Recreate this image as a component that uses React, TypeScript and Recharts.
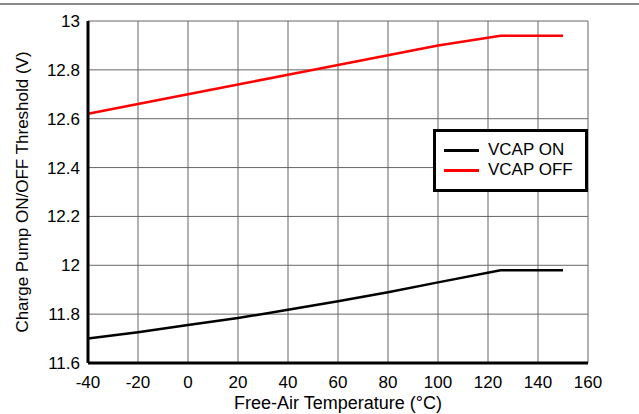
import { LineChart, Line, XAxis, YAxis, CartesianGrid } from "recharts"

const temps = [-40, -20, 0, 20, 40, 60, 80, 100, 125, 150]
const vcapOn = [11.7, 11.726, 11.756, 11.784, 11.818, 11.853, 11.89, 11.93, 11.98, 11.98]
const vcapOff = [12.62, 12.66, 12.7, 12.74, 12.78, 12.82, 12.86, 12.9, 12.94, 12.94]
const xTicks = [-40, -20, 0, 20, 40, 60, 80, 100, 120, 140, 160]
const yTicks = [11.6, 11.8, 12, 12.2, 12.4, 12.6, 12.8, 13]

const data = temps.map((t, i) => ({ t, on: vcapOn[i], off: vcapOff[i] }))

const font = "'Liberation Sans', Arial, sans-serif"
const tickStyle = { fontSize: 17, fill: "#000", fontFamily: font }

const fmtY = (v: number) => String(parseFloat(v.toFixed(1)))

// legend drawn as a plain overlay so it doesn't eat chart space
function LegendBox() {
  const items = [
    { name: "VCAP ON", color: "#000" },
    { name: "VCAP OFF", color: "#ff0000" },
  ]
  return (
    <div
      style={{
        position: "absolute",
        left: 433,
        top: 129,
        boxSizing: "border-box",
        width: 155,
        height: 63,
        border: "3px solid #000",
        background: "#fff",
        padding: "8px 0 0 8px",
        fontFamily: font,
        fontSize: 17,
        lineHeight: "20px",
        color: "#000",
      }}
    >
      {items.map((it) => (
        <div key={it.name} style={{ display: "flex", alignItems: "center" }}>
          <span style={{ display: "inline-block", width: 35, height: 0, borderTop: `3px solid ${it.color}`, marginRight: 9 }} />
          <span>{it.name}</span>
        </div>
      ))}
    </div>
  )
}

export default function App() {
  return (
    <div style={{ position: "absolute", left: 0, top: 0, width: 639, height: 414, background: "#fff" }}>
      <div style={{ position: "absolute", left: 0, top: 3, width: 639, height: 0, borderTop: "2px solid #8a8a8a" }} />
      <LineChart width={639} height={414} data={data} margin={{ top: 21, right: 51, bottom: 0, left: 0 }}>
        <CartesianGrid stroke="#666" strokeWidth={1} />
        <XAxis
          dataKey="t"
          type="number"
          domain={[-40, 160]}
          ticks={xTicks}
          interval={0}
          tickLine={false}
          tickSize={0}
          tickMargin={13}
          height={51}
          axisLine={{ stroke: "#000", strokeWidth: 3 }}
          tick={tickStyle}
          label={{ value: "Free-Air Temperature (°C)", position: "insideBottom", offset: 5, style: { ...tickStyle, fontSize: 18 } }}
        />
        <XAxis
          xAxisId="top"
          orientation="top"
          type="number"
          domain={[-40, 160]}
          tick={false}
          tickLine={false}
          height={0}
          axisLine={{ stroke: "#000", strokeWidth: 3 }}
        />
        <YAxis
          type="number"
          domain={[11.6, 13]}
          ticks={yTicks}
          interval={0}
          width={88}
          tickLine={false}
          tickSize={0}
          tickMargin={8}
          tickFormatter={fmtY}
          axisLine={{ stroke: "#000", strokeWidth: 3 }}
          tick={tickStyle}
          label={{
            value: "Charge Pump ON/OFF Threshold (V)",
            angle: -90,
            position: "insideLeft",
            offset: 22,
            style: { ...tickStyle, textAnchor: "middle" },
          }}
        />
        <YAxis
          yAxisId="right"
          orientation="right"
          type="number"
          domain={[11.6, 13]}
          tick={false}
          tickLine={false}
          width={0}
          axisLine={{ stroke: "#000", strokeWidth: 3 }}
        />
        <Line dataKey="on" name="VCAP ON" type="linear" stroke="#000" strokeWidth={2.5} dot={false} isAnimationActive={false} />
        <Line dataKey="off" name="VCAP OFF" type="linear" stroke="#ff0000" strokeWidth={2.5} dot={false} isAnimationActive={false} />
      </LineChart>
      <LegendBox />
    </div>
  )
}
